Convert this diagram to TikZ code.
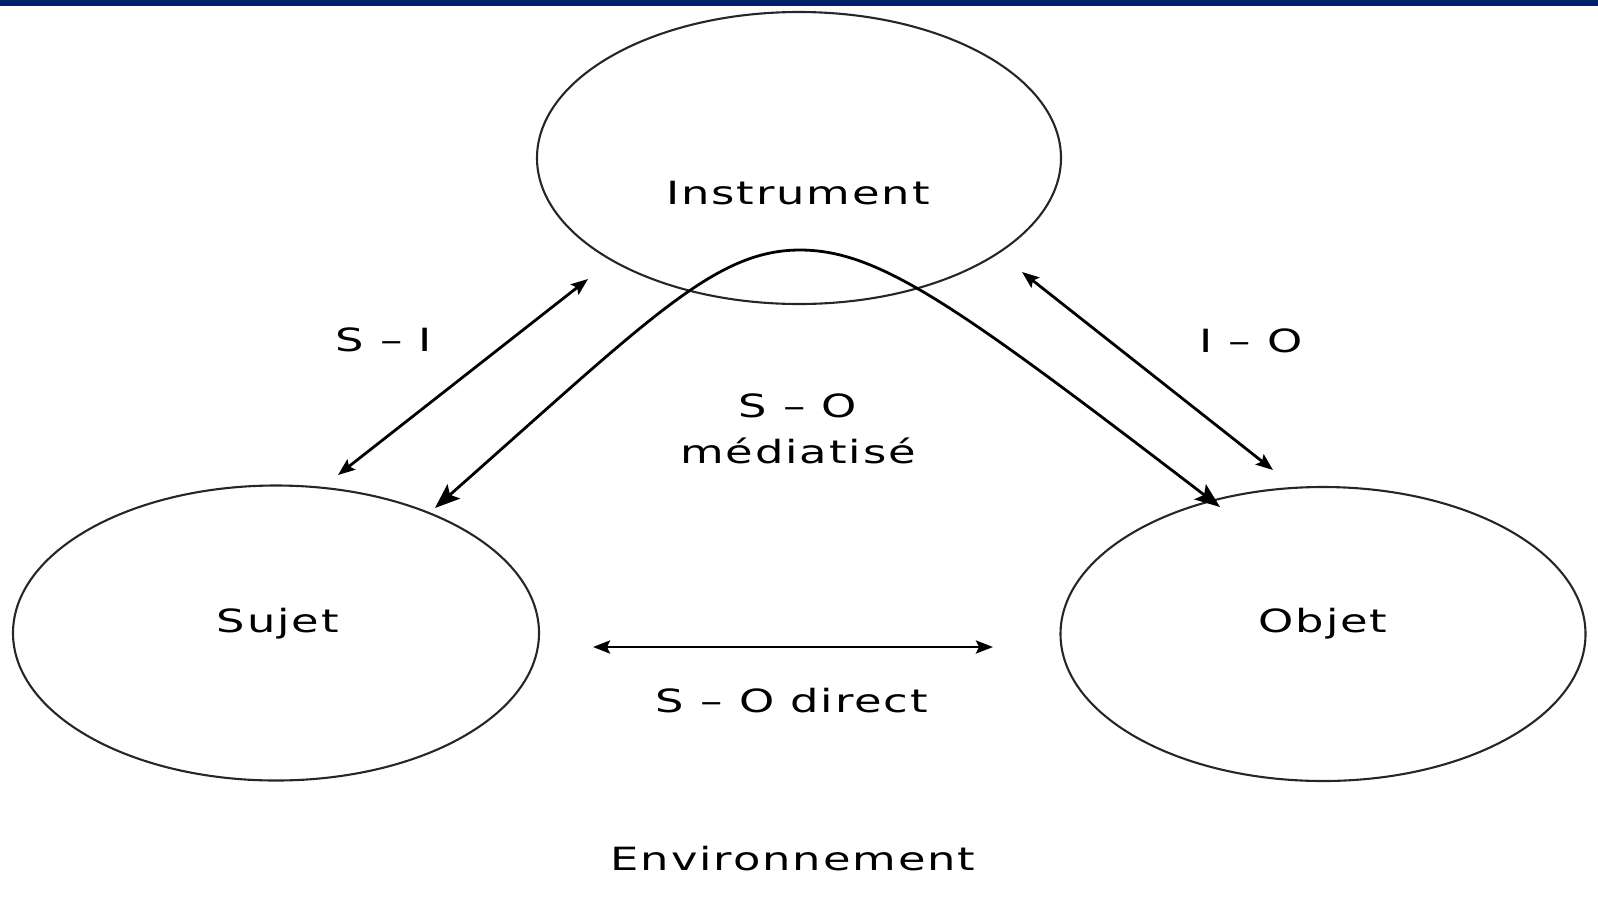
\documentclass[tikz,border=0pt]{standalone}
\usepackage{fontspec}
\newfontfamily\widefont[FakeStretch=1.4,LetterSpace=6]{DejaVu Sans}
\usetikzlibrary{shapes.geometric,arrows.meta}
\definecolor{barblue}{RGB}{0,33,102}
\begin{document}
\begin{tikzpicture}[x=1pt,y=-1pt,
  oval/.style={draw=black!85,line width=2.1pt,ellipse,inner sep=0pt},
  lbl/.style={font=\widefont\fontsize{32}{38}\selectfont,anchor=base,inner sep=0pt},
  link/.style={line width=2.8pt,{Stealth[length=17pt,width=13pt,inset=3pt]}-{Stealth[length=17pt,width=13pt,inset=3pt]}},
  biglink/.style={line width=2.8pt,{Stealth[length=25pt,width=19pt,inset=5pt]}-{Stealth[length=25pt,width=19pt,inset=5pt]}}]
\useasboundingbox (0,0) rectangle (1598,898);
\fill[barblue] (0,0) rectangle (1598,6);

% ellipses
\node[oval,minimum width=524pt,minimum height=292pt] (instr) at (799,158) {};
\node[oval,minimum width=526pt,minimum height=295pt] (sujet) at (276,633) {};
\node[oval,minimum width=525pt,minimum height=294pt] (objet) at (1323,634) {};

% labels
\node[lbl] (tinstr) at (798,204) {Instrument};
\node[lbl] (tsujet) at (278,632) {Sujet};
\node[lbl] (tobjet) at (1323,632) {Objet};
\node[lbl] (tsi) at (384,351) {S – I};
\node[lbl] (tio) at (1251,352) {I – O};
\node[lbl] (tso) at (798,417) {S – O};
\node[lbl] (tmed) at (798,463) {médiatisé};
\node[lbl] (tdir) at (792,712) {S – O direct};
\node[lbl] (tenv) at (793,870) {Environnement};

% connector end points
\coordinate (siS) at (338,475);
\coordinate (siI) at (588,279);
\coordinate (ioI) at (1022,272);
\coordinate (ioO) at (1273,470);
\coordinate (soS) at (593,647);
\coordinate (soO) at (993,647);
\coordinate (mS) at (435,508);
\coordinate (mTop) at (800,250);
\coordinate (mO) at (1220,507);

\draw[link] (siS) -- (siI);
\draw[link] (ioI) -- (ioO);
\draw[link] (soS) -- (soO);
\draw[biglink] (mS) .. controls (650,318) and (715,250) .. (mTop)
  .. controls (880,250) and (960,308) .. (mO);
\end{tikzpicture}
\end{document}
